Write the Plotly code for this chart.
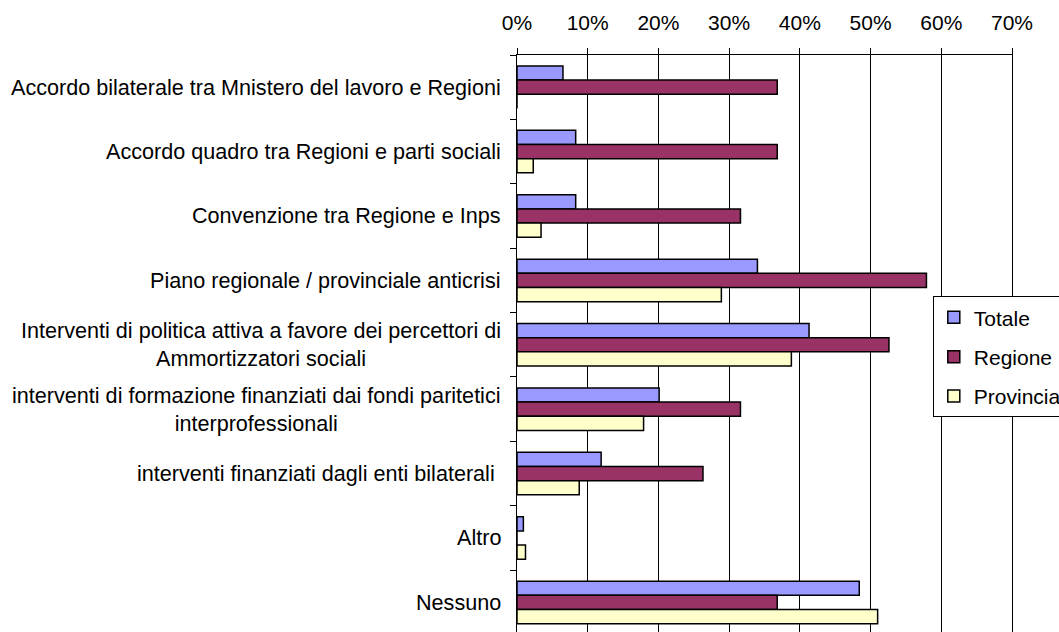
import plotly.graph_objects as go

categories = [
    "Accordo bilaterale tra Mnistero del lavoro e Regioni",
    "Accordo quadro tra Regioni e parti sociali",
    "Convenzione tra Regione e Inps",
    "Piano regionale / provinciale anticrisi",
    "Interventi di politica attiva a favore dei percettori di<br>Ammortizzatori sociali",
    "interventi di formazione finanziati dai fondi paritetici<br>interprofessionali",
    "interventi finanziati dagli enti bilaterali ",
    "Altro",
    "Nessuno",
]
series_names = ["Totale", "Regione", "Provincia"]
totale = [6.5, 8.3, 8.3, 34.0, 41.3, 20.1, 11.9, 0.9, 48.4]
regione = [36.8, 36.8, 31.6, 57.9, 52.6, 31.6, 26.3, 0.0, 36.8]
provincia = [0.0, 2.3, 3.4, 28.9, 38.8, 17.9, 8.8, 1.2, 51.0]
tick_vals = [0, 10, 20, 30, 40, 50, 60, 70]
tick_text = ["0%", "10%", "20%", "30%", "40%", "50%", "60%", "70%"]

colors = ["#9999FF", "#993366", "#FFFFCC"]
FONT = "Liberation Sans, Arial, sans-serif"
FS = 21

fig = go.Figure()
for name, vals, col in zip(series_names, [totale, regione, provincia], colors):
    fig.add_trace(go.Bar(
        name=name, y=categories, x=vals, orientation="h",
        marker=dict(color=col, line=dict(color="black", width=1.5)),
        legendgroup=name,
    ))

for cat in categories:
    fig.add_annotation(
        x=0, xref="paper", y=cat, yref="y", text=cat, showarrow=False,
        xanchor="right", align="center", xshift=-14,
        font=dict(family=FONT, size=21.6, color="black"),
    )

fig.update_layout(
    width=1059, height=632,
    margin=dict(l=517, r=47, t=55, b=0, pad=0, autoexpand=False),
    paper_bgcolor="white", plot_bgcolor="white",
    barmode="group", bargap=0.34, bargroupgap=0,
    font=dict(family=FONT, size=FS, color="black"),
    showlegend=True,
    legend=dict(
        x=0.84, y=0.582, xanchor="left", yanchor="top",
        bgcolor="white", bordercolor="black", borderwidth=1,
        font=dict(family=FONT, size=FS, color="black"),
        traceorder="grouped", tracegroupgap=9,
    ),
    xaxis=dict(
        side="top", range=[0, 70], tickvals=tick_vals, ticktext=tick_text,
        showgrid=True, gridcolor="black", gridwidth=1,
        showline=True, linecolor="black", linewidth=1,
        ticks="outside", ticklen=6, tickcolor="black",
        ticklabelstandoff=10, zeroline=False,
    ),
    yaxis=dict(
        type="category", range=[8.46, -0.5], tickson="boundaries",
        showticklabels=False, ticks="outside", ticklen=6, tickcolor="black",
        showline=True, linecolor="black", linewidth=1, mirror=True,
        showgrid=False,
    ),
)

fig.write_html(
    "out.html",
    config={"responsive": False, "displayModeBar": False},
    post_script="document.body.style.margin='0';document.body.style.overflow='hidden';",
)
